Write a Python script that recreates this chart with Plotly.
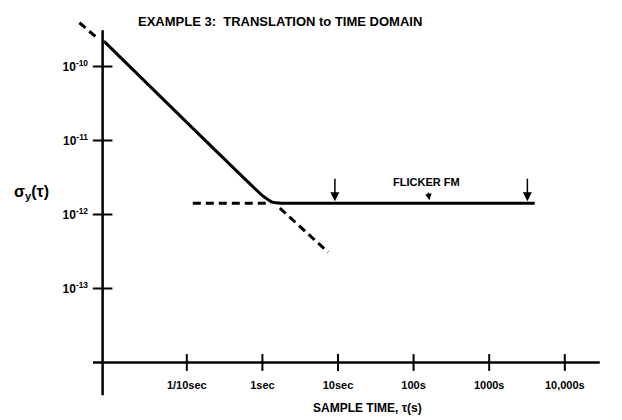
import numpy as np
import plotly.graph_objects as go

# page body has an 8px margin; size the figure to fit the 622x420 window
OX, OY = 8, 8
W, H = 622 - OX, 420 - OY

# ---- data ----
solid_tau = [0.008, 1.0, 1.35, 1.8, 4000]
solid_sigma = [2.2e-10, 1.8e-12, 1.47e-12, 1.42e-12, 1.42e-12]
dash_up_tau = [0.0038, 0.0066]
dash_up_sigma = [3.9e-10, 2.4e-10]
dash_h_tau = [0.12, 1.3]
dash_h_sigma = [1.42e-12, 1.42e-12]
dash_down_tau = [1.7, 7.4]
dash_down_sigma = [1.22e-12, 3.1e-13]
arrow_tau = [9.1, 3200]
flicker_level = 1.42e-12
flicker_label_tau = 150
flicker_label_sigma = 2.75e-12

x_tick_vals = [0.1, 1, 10, 100, 1000, 10000]
x_tick_text = ["1/10sec", "1sec", "10sec", "100s", "1000s", "10,000s"]
y_tick_vals = [1e-10, 1e-11, 1e-12, 1e-13]
y_tick_text = ["10<sup>-10</sup>", "10<sup>-11</sup>", "10<sup>-12</sup>", "10<sup>-13</sup>"]

axis_tau = 0.0077        # where the vertical axis crosses
axis_sigma = 1e-14       # where the horizontal axis crosses
x_axis_extent = [0.00575, 29000]
y_axis_extent = [3.1e-10, 3.6e-15]

# ---- layout geometry (reference pixels) ----
px0, px1 = 60, 618
py_top, py_bot = 12, 405
def tau_at(px):
    return (px - 262.4) / 75.6
def sig_at(py):
    return -12 - (py - 214.5) / 74.0
def fx(px):
    return (px - OX) / W
def fy(py):
    return 1 - (py - OY) / H

FONT = "Liberation Sans Narrow, Liberation Sans, Arial"
black = "black"

fig = go.Figure()

fig.add_trace(go.Scatter(x=solid_tau, y=solid_sigma, mode="lines",
                         line=dict(color=black, width=3, shape="spline", smoothing=0.3)))
for tx, sy in [(dash_up_tau, dash_up_sigma), (dash_h_tau, dash_h_sigma),
               (dash_down_tau, dash_down_sigma)]:
    fig.add_trace(go.Scatter(x=tx, y=sy, mode="lines",
                             line=dict(color=black, width=3, dash="8px,5px")))

# axes lines
fig.add_trace(go.Scatter(x=x_axis_extent, y=[axis_sigma, axis_sigma], mode="lines",
                         line=dict(color=black, width=2.5)))
fig.add_trace(go.Scatter(x=[axis_tau, axis_tau], y=y_axis_extent, mode="lines",
                         line=dict(color=black, width=2.5)))
# tick marks crossing the axes
fig.add_trace(go.Scatter(x=x_tick_vals, y=[axis_sigma] * len(x_tick_vals), mode="markers",
                         marker=dict(symbol="line-ns", size=12, line=dict(color=black, width=2))))
fig.add_trace(go.Scatter(x=[axis_tau] * len(y_tick_vals), y=y_tick_vals, mode="markers",
                         marker=dict(symbol="line-ew", size=14, line=dict(color=black, width=2))))

annotations = []
for t in arrow_tau:
    annotations.append(dict(x=np.log10(t), y=np.log10(flicker_level), xref="x", yref="y",
                            text="", showarrow=True, ax=0, ay=-26, arrowhead=2,
                            arrowsize=1.2, arrowwidth=1.5, arrowcolor=black, standoff=2))
annotations.append(dict(x=np.log10(flicker_label_tau), y=np.log10(flicker_label_sigma),
                        xref="x", yref="y", text="FLICKER FM", showarrow=False,
                        xanchor="center", yanchor="middle",
                        font=dict(size=11, family=FONT, color=black, weight="bold")))
annotations.append(dict(x=np.log10(flicker_label_tau) + 0.04, y=np.log10(flicker_level),
                        xref="x", yref="y", text="", showarrow=True, ax=-2, ay=-12,
                        arrowhead=2, arrowsize=1, arrowwidth=1.3, arrowcolor=black, standoff=3))
annotations.append(dict(x=fx(32), y=fy(192), xref="paper", yref="paper",
                        text="σ<sub>y</sub>(τ)", showarrow=False,
                        xanchor="center", yanchor="middle",
                        font=dict(size=16, family=FONT, color=black, weight="bold")))
annotations.append(dict(x=fx(367), y=fy(408), xref="paper", yref="paper",
                        text="SAMPLE TIME, τ(s)", showarrow=False,
                        xanchor="center", yanchor="middle",
                        font=dict(size=12, family=FONT, color=black, weight="bold")))
annotations.append(dict(x=fx(280), y=fy(22), xref="paper", yref="paper",
                        text="EXAMPLE 3:  TRANSLATION to TIME DOMAIN", showarrow=False,
                        xanchor="center", yanchor="middle",
                        font=dict(size=13, family=FONT, color=black, weight="bold")))

fig.update_layout(
    width=W, height=H, margin=dict(l=0, r=0, t=0, b=0),
    paper_bgcolor="white", plot_bgcolor="white", showlegend=False,
    font=dict(family=FONT, color=black, size=11, weight="bold"),
    annotations=annotations,
    xaxis=dict(type="log", domain=[fx(px0), fx(px1)], range=[tau_at(px0), tau_at(px1)],
               anchor="free", position=fy(363), showline=False, showgrid=False,
               zeroline=False, ticks="", tickvals=x_tick_vals, ticktext=x_tick_text,
               ticklabelstandoff=14, tickfont=dict(size=11)),
    yaxis=dict(type="log", domain=[fy(py_bot), fy(py_top)],
               range=[sig_at(py_bot), sig_at(py_top)],
               anchor="free", position=fx(102), showline=False, showgrid=False,
               zeroline=False, ticks="", tickvals=y_tick_vals, ticktext=y_tick_text,
               ticklabelstandoff=14, tickfont=dict(size=12)),
)

fig.write_html("out.html")
